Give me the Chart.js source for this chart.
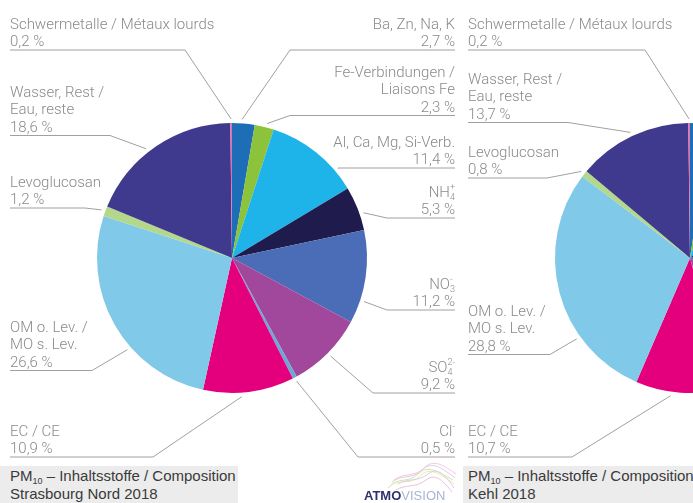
<!DOCTYPE html>
<html>
<head>
<meta charset="utf-8">
<script src="https://cdn.jsdelivr.net/npm/chart.js@4/dist/chart.umd.min.js"></script>
<style>
  html, body { margin: 0; padding: 0; width: 693px; height: 503px; overflow: hidden; background: #fff; }
  body { position: relative; font-family: "Liberation Sans", Arial, sans-serif; }
  canvas { position: absolute; top: 0; }
  #strasbourg { left: 0; }
  #kehl { left: 460px; }
  .caption { position: absolute; top: 466px; height: 37px; background: #ececec; color: #3a3a3a;
             font-size: 15px; line-height: 18px; padding: 1px 0 0 10px; box-sizing: border-box; white-space: nowrap; }
  .caption sub { font-size: 9px; vertical-align: -3px; line-height: 0; }
  #cap-strasbourg { left: 0; width: 238px; }
  #cap-kehl { left: 463px; width: 230px; padding-left: 5px; }
  #logo { position: absolute; left: 358px; top: 458px; }
</style>
</head>
<body>
<canvas id="strasbourg" width="693" height="503"></canvas>
<canvas id="kehl" width="460" height="503"></canvas>

<div class="caption" id="cap-strasbourg">PM<sub>10</sub> – Inhaltsstoffe / Composition<br>Strasbourg Nord 2018</div>
<div class="caption" id="cap-kehl">PM<sub>10</sub> – Inhaltsstoffe / Composition<br>Kehl 2018</div>

<svg id="logo" width="100" height="45" viewBox="0 0 100 45">
  <g fill="none" stroke-width="1" opacity="0.55">
    <path d="M30 30 C40 18, 50 26, 60 16 S 80 14, 95 22" stroke="#9fd36a"/>
    <path d="M32 28 C42 20, 52 28, 62 18 S 82 16, 96 26" stroke="#e6d45a"/>
    <path d="M34 24 C44 16, 54 22, 64 12 S 84 10, 97 20" stroke="#c59ad8"/>
    <path d="M36 22 C46 14, 56 20, 66 10 S 86 8, 98 16" stroke="#e99ac4"/>
    <path d="M40 26 C50 20, 60 24, 70 16 S 88 18, 96 30" stroke="#b9a3dc"/>
    <path d="M38 32 C48 26, 58 30, 68 22 S 86 24, 94 34" stroke="#d58fc0"/>
  </g>
  <text x="6" y="42" font-family="Liberation Sans, Arial, sans-serif" font-size="13"><tspan fill="#2d3170" font-weight="bold">ATMO</tspan><tspan fill="#a9b4d2">VISION</tspan></text>
</svg>

<script>
// Components of PM10, order = clockwise from 12 o'clock
const categories = [
  "Ba, Zn, Na, K",
  "Fe-Verbindungen /\nLiaisons Fe",
  "Al, Ca, Mg, Si-Verb.",
  "NH_4^+",
  "NO_3^-",
  "SO_4^2-",
  "Cl^-",
  "EC / CE",
  "OM o. Lev. /\nMO s. Lev.",
  "Levoglucosan",
  "Wasser, Rest /\nEau, reste",
  "Schwermetalle / Métaux lourds"
];

// percentages
const strasbourgValues = [2.7, 2.3, 11.4, 5.3, 11.2, 9.2, 0.5, 10.9, 26.6, 1.2, 18.6, 0.2];
const kehlValues = [2.4, 2.6, 8.8, 6.1, 14.4, 10.9, 0.6, 10.7, 28.8, 0.8, 13.7, 0.2];

const sliceColors = [
  "#1d6eb6", "#8cc33a", "#1fb4e9", "#1f1c4d", "#4b6cb6", "#a2489c",
  "#6ea6d8", "#e4007c", "#80c9e8", "#b3d78b", "#3f3a8e", "#e36fb0"
];

// label placement: slice index, side, first-line y, elbow x, position along slice
const strasbourgLabels = [
  { i: 0, side: "right", y: 25, elbow: 290, at: 0.43 },
  { i: 1, side: "right", y: 73, elbow: 290, at: 0.6 },
  { i: 2, side: "right", y: 143, elbow: 338, at: 0.78 },
  { i: 3, side: "right", y: 193, elbow: 387, at: 0.63 },
  { i: 4, side: "right", y: 285, elbow: 387, at: 0.75 },
  { i: 5, side: "right", y: 368, elbow: 373, at: 0.5 },
  { i: 6, side: "right", y: 432, elbow: 358, at: 0.5 },
  { i: 7, side: "left", y: 432, elbow: 153, at: 0.58 },
  { i: 8, side: "left", y: 328, elbow: 92, at: 0.38 },
  { i: 9, side: "left", y: 183, elbow: 85, at: 0.5 },
  { i: 10, side: "left", y: 93, elbow: 110, at: 0.44 },
  { i: 11, side: "left", y: 25, elbow: 185, at: 0.5 }
];
const kehlLabels = [
  { i: 7, side: "left", y: 432, elbow: 572, at: 0.6 },
  { i: 8, side: "left", y: 312, elbow: 550, at: 0.3 },
  { i: 9, side: "left", y: 153, elbow: 547, at: 0.5 },
  { i: 10, side: "left", y: 80, elbow: 568, at: 0.5 },
  { i: 11, side: "left", y: 25, elbow: 645, at: 0.5 }
];

const FONT = '300 15px Roboto, "Liberation Sans", Arial, sans-serif';
const SMALL = '300 9px Roboto, "Liberation Sans", Arial, sans-serif';
const LINE_H = 17.5;

function pct(v) {
  return v.toFixed(1).replace(".", ",") + " %";
}

// "NH_4^+" -> base "NH", sub "4", sup "+"
function parseChem(s) {
  const m = s.match(/^([^_^]*)(?:_([^^]*))?(?:\^(.*))?$/);
  return { base: m[1], sub: m[2] || "", sup: m[3] || "" };
}

function lineWidth(ctx, p) {
  ctx.font = FONT;
  let w = ctx.measureText(p.base).width;
  ctx.font = SMALL;
  w += Math.max(ctx.measureText(p.sub).width, ctx.measureText(p.sup).width);
  return w;
}

function drawLine(ctx, p, x, y) {
  ctx.font = FONT;
  ctx.fillText(p.base, x, y);
  const bx = x + ctx.measureText(p.base).width;
  ctx.font = SMALL;
  if (p.sub) ctx.fillText(p.sub, bx, y + 5);
  if (p.sup) ctx.fillText(p.sup, bx, y - 5);
}

function leaderPlugin(labels, values, offsetX, textLeft, textRight) {
  return {
    id: "leaders",
    afterDraw(chart) {
      const ctx = chart.ctx;
      const arcs = chart.getDatasetMeta(0).data;
      ctx.save();
      ctx.translate(-offsetX, 0);
      ctx.textBaseline = "middle";
      ctx.textAlign = "left";
      labels.forEach(l => {
        const arc = arcs[l.i];
        const lines = categories[l.i].split("\n").map(parseChem);
        lines.push(parseChem(pct(values[l.i])));
        ctx.fillStyle = "#8a8a8a";
        lines.forEach((p, k) => {
          const y = l.y + k * LINE_H;
          const x = l.side === "left" ? textLeft : textRight - lineWidth(ctx, p);
          drawLine(ctx, p, x, y);
        });
        const uy = l.y + (lines.length - 1) * LINE_H + 7.5;
        const a = arc.startAngle + l.at * (arc.endAngle - arc.startAngle);
        const r = arc.outerRadius + 4;
        const ex = arc.x + offsetX + Math.cos(a) * r;
        const ey = arc.y + Math.sin(a) * r;
        ctx.strokeStyle = "#a0a0a0";
        ctx.lineWidth = 1;
        ctx.beginPath();
        ctx.moveTo(l.side === "left" ? textLeft : textRight, uy);
        ctx.lineTo(l.elbow, uy);
        ctx.lineTo(ex, ey);
        ctx.stroke();
      });
      ctx.restore();
    }
  };
}

function pieConfig(values, padding, plugin) {
  return {
    type: "pie",
    data: {
      labels: categories,
      datasets: [{
        data: values,
        backgroundColor: sliceColors,
        borderWidth: 0
      }]
    },
    options: {
      responsive: false,
      animation: false,
      layout: { padding: padding },
      plugins: {
        legend: { display: false },
        tooltip: { enabled: false }
      }
    },
    plugins: [plugin]
  };
}

const strasbourgChart = new Chart(
  document.getElementById("strasbourg"),
  pieConfig(strasbourgValues, { left: 97, right: 326, top: 123, bottom: 110 },
    leaderPlugin(strasbourgLabels, strasbourgValues, 0, 10, 455))
);

const kehlChart = new Chart(
  document.getElementById("kehl"),
  pieConfig(kehlValues, { left: 95, right: 95, top: 123, bottom: 110 },
    leaderPlugin(kehlLabels, kehlValues, 460, 468, 913))
);
</script>
</body>
</html>
